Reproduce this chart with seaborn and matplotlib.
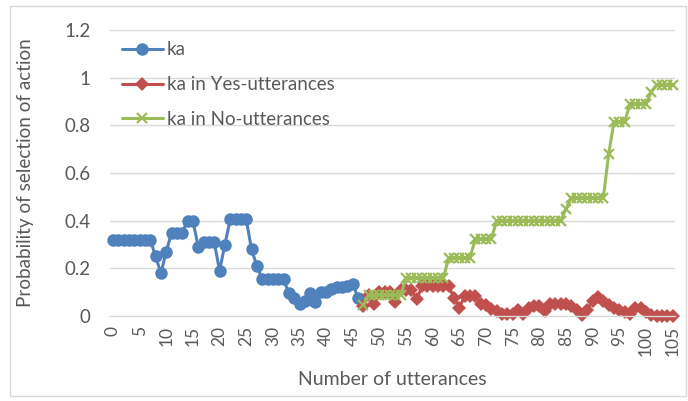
import numpy as np
import pandas as pd
import seaborn as sns
import matplotlib.pyplot as plt
from matplotlib.patches import Rectangle
from matplotlib.ticker import FixedLocator

# utterance number 0..46 for "ka"
ka_x = list(range(0, 47))
ka = [0.32, 0.32, 0.32, 0.32, 0.32, 0.32, 0.32, 0.32, 0.25, 0.18,
      0.27, 0.35, 0.35, 0.35, 0.40, 0.40, 0.29, 0.31, 0.31, 0.31,
      0.19, 0.30, 0.405, 0.405, 0.405, 0.405, 0.28, 0.21, 0.155, 0.155,
      0.155, 0.155, 0.155, 0.095, 0.075, 0.05, 0.065, 0.095, 0.06, 0.10,
      0.10, 0.115, 0.12, 0.12, 0.125, 0.135, 0.075]

# utterance number 47..105 for the Yes / No series
yn_x = list(range(47, 106))
ka_yes = [0.04, 0.09, 0.05, 0.10, 0.10, 0.10, 0.06, 0.11, 0.11, 0.11,
          0.07, 0.125, 0.125, 0.125, 0.125, 0.125, 0.125, 0.075, 0.035, 0.085,
          0.085, 0.085, 0.05, 0.045, 0.03, 0.02, 0.01, 0.01, 0.01, 0.025,
          0.01, 0.035, 0.04, 0.04, 0.02, 0.05, 0.05, 0.05, 0.05, 0.04,
          0.025, 0.005, 0.025, 0.065, 0.08, 0.065, 0.045, 0.035, 0.025, 0.015,
          0.01, 0.035, 0.035, 0.018, 0.003, 0.0, 0.0, 0.0, 0.0]
ka_no = [0.045, 0.09, 0.09, 0.09, 0.09, 0.09, 0.09, 0.09, 0.16, 0.16,
         0.16, 0.16, 0.16, 0.16, 0.16, 0.16, 0.245, 0.245, 0.245, 0.245,
         0.245, 0.325, 0.325, 0.325, 0.325, 0.40, 0.40, 0.40, 0.40, 0.40,
         0.40, 0.40, 0.40, 0.40, 0.40, 0.40, 0.40, 0.40, 0.45, 0.495,
         0.495, 0.495, 0.495, 0.495, 0.495, 0.495, 0.68, 0.815, 0.815, 0.815,
         0.89, 0.89, 0.89, 0.89, 0.94, 0.97, 0.97, 0.97, 0.97]

x_ticks = list(range(0, 106, 5))
y_ticks = [0, 0.2, 0.4, 0.6, 0.8, 1.0, 1.2]
y_labels = ["0", "0.2", "0.4", "0.6", "0.8", "1", "1.2"]

sns.set_style("white")
plt.rcParams['font.family'] = ['Lato', 'DejaVu Sans']
txt = "#595959"
grid = "#D9D9D9"
blue, red, green = "#4F81BD", "#C0504D", "#9BBB59"

fig = plt.figure(figsize=(6.88, 4.01), dpi=100)
ax = fig.add_axes([0.1603, 0.212, 0.8212, 0.713])

# outer chart border
fig.patches.append(Rectangle((0.014, 0.012), 0.983, 0.972, transform=fig.transFigure,
                             fill=False, edgecolor=grid, linewidth=1))

sns.lineplot(x=ka_x, y=ka, ax=ax, color=blue, marker="o", markersize=9,
             markeredgewidth=0, linewidth=2.2, label="ka", clip_on=False)
sns.lineplot(x=yn_x, y=ka_yes, ax=ax, color=red, marker="D", markersize=7,
             markeredgewidth=0, linewidth=2.2, label="ka in Yes-utterances", clip_on=False)
sns.lineplot(x=yn_x, y=ka_no, ax=ax, color=green, marker="x", markersize=7.5,
             markeredgecolor=green, markeredgewidth=1.6, linewidth=2.2,
             label="ka in No-utterances", clip_on=False)

ax.set_xlim(-0.5, 105.5)
ax.set_ylim(0, 1.2)
ax.set_yticks(y_ticks)
ax.set_yticklabels(y_labels)
ax.set_xticks(x_ticks)
ax.set_xticklabels([str(t) for t in x_ticks], rotation=90)
ax.xaxis.set_minor_locator(FixedLocator(np.arange(-0.5, 106, 1)))
ax.tick_params(axis='x', which='major', length=0, pad=7, labelsize=12.5, labelcolor=txt)
ax.tick_params(axis='x', which='minor', length=4, width=0.8, color=grid, direction='out')
ax.tick_params(axis='y', length=0, pad=14, labelsize=13.5, labelcolor=txt)

for y in y_ticks[1:]:
    ax.axhline(y, color=grid, linewidth=1, zorder=0)
for s in ["top", "right", "left"]:
    ax.spines[s].set_visible(False)
ax.spines["bottom"].set_color(grid)
ax.spines["bottom"].set_linewidth(1)

ax.set_xlabel("Number of utterances", fontsize=14, color=txt, labelpad=11)
ax.set_ylabel("Probability of selection of action", fontsize=13.6, color=txt, labelpad=22)

leg = ax.legend(loc="upper left", bbox_to_anchor=(0.0, 1.0), frameon=False,
                fontsize=13.5, handlelength=2.2, handletextpad=0.2, labelspacing=0.95,
                borderaxespad=0.2)
for t in leg.get_texts():
    t.set_color(txt)

fig.savefig("out.png", dpi=100)
